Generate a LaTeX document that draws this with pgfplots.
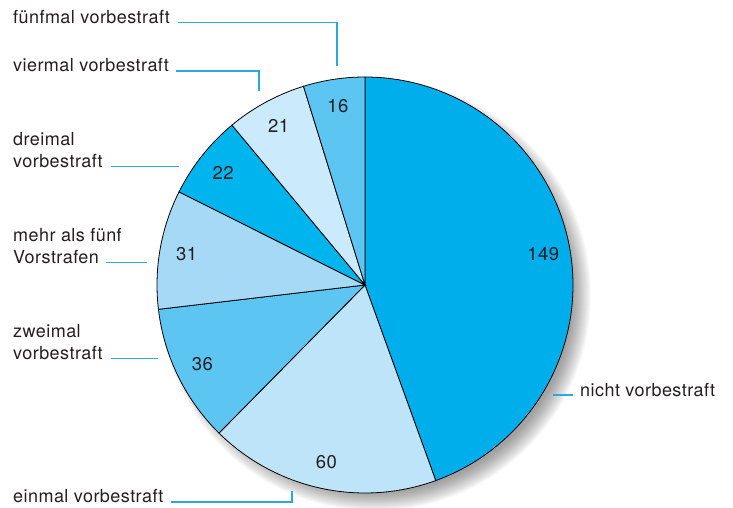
\documentclass[border=0pt]{standalone}
\usepackage{fontspec}
\setmainfont[LetterSpace=2.5]{TeX Gyre Heros}
\usepackage{pgfplots}
\usepackage{pgfplotstable}
\pgfplotsset{compat=1.18}

\definecolor{pc0}{HTML}{00AEEB}
\definecolor{pc1}{HTML}{BEE4F9}
\definecolor{pc2}{HTML}{5CC5F2}
\definecolor{pc3}{HTML}{A6D9F6}
\definecolor{pc4}{HTML}{00B5EE}
\definecolor{pc5}{HTML}{CBEAFB}
\definecolor{pc6}{HTML}{5CC5F2}
\definecolor{leader}{HTML}{2AA9E0}
\definecolor{txt}{HTML}{231F20}

\pgfplotstableread{
value
149
60
36
31
22
21
16
}\piedata

\begin{document}
\begin{tikzpicture}
\useasboundingbox (0,0) rectangle (733pt,508pt);
% totals and angles
\xdef\pietotal{0}
\foreach \i in {0,...,6}{
  \pgfplotstablegetelem{\i}{value}\of\piedata
  \pgfmathsetmacro{\tmp}{\pietotal+\pgfplotsretval}
  \xdef\pietotal{\tmp}
}
\xdef\piecum{0}
\foreach \i in {0,...,6}{
  \pgfplotstablegetelem{\i}{value}\of\piedata
  \pgfmathsetmacro{\st}{90-\piecum/\pietotal*360}
  \pgfmathsetmacro{\tmp}{\piecum+\pgfplotsretval}
  \xdef\piecum{\tmp}
  \pgfmathsetmacro{\en}{90-\piecum/\pietotal*360}
  \pgfmathsetmacro{\md}{(\st+\en)/2}
  \expandafter\xdef\csname pieS\i\endcsname{\st}
  \expandafter\xdef\csname pieE\i\endcsname{\en}
  \expandafter\xdef\csname pieM\i\endcsname{\md}
  \expandafter\xdef\csname pieV\i\endcsname{\pgfplotsretval}
}
% soft shadow
\foreach \k in {0,...,18}{
  \fill[black, opacity=0.024] (375pt,213pt) circle[radius={(216-1.0*\k)*1pt}];
}
\begin{axis}[
  scale only axis, width=733pt, height=508pt,
  xmin=0, xmax=733, ymin=0, ymax=508,
  hide axis, clip=false,
  font=\fontsize{18}{21}\selectfont\color{txt},
]
\pgfplotsinvokeforeach{0,...,6}{
  \addplot[draw=black, line width=0.8pt, fill=pc#1, domain={\csname pieE#1\endcsname}:{\csname pieS#1\endcsname}, samples=90, variable=\t]
    ({365+208*cos(t)},{223+208*sin(t)}) -- (axis cs:365,223) -- cycle;
}
\pgfplotsinvokeforeach{0,...,6}{
  \node[text=txt, font=\fontsize{18.5}{21}\selectfont] at (axis cs:{365+181*cos(\csname pieM#1\endcsname)},{223+181*sin(\csname pieM#1\endcsname)}) {\csname pieV#1\endcsname};
}
% labels (img y -> 508 - y)
\begin{scope}[every node/.style={anchor=base west, inner sep=0pt, text=txt}]
\node at (axis cs:13,484) {fünfmal vorbestraft};
\node at (axis cs:13,436) {viermal vorbestraft};
\node at (axis cs:13,362) {dreimal};
\node at (axis cs:13,340.3) {vorbestraft};
\node at (axis cs:13,266.3) {mehr als fünf};
\node at (axis cs:13,244.7) {Vorstrafen};
\node at (axis cs:13,170.7) {zweimal};
\node at (axis cs:13,148.7) {vorbestraft};
\node at (axis cs:13,5.3) {einmal vorbestraft};
\node at (axis cs:580,111.3) {nicht vorbestraft};
\end{scope}
\begin{scope}[leader, line width=1.3pt]
\draw (axis cs:178,485.3) -- (axis cs:337,485.3) -- (axis cs:337,442);
\draw (axis cs:176,437) -- (axis cs:259,437) -- (axis cs:259,417);
\draw (axis cs:111,341.3) -- (axis cs:179,341.3);
\draw (axis cs:106,245.3) -- (axis cs:147,245.3);
\draw (axis cs:111,149.3) -- (axis cs:158,149.3);
\draw (axis cs:171,6) -- (axis cs:292,6) -- (axis cs:292,17);
\draw (axis cs:553,113) -- (axis cs:573,113);
\end{scope}
\end{axis}
\end{tikzpicture}
\end{document}
